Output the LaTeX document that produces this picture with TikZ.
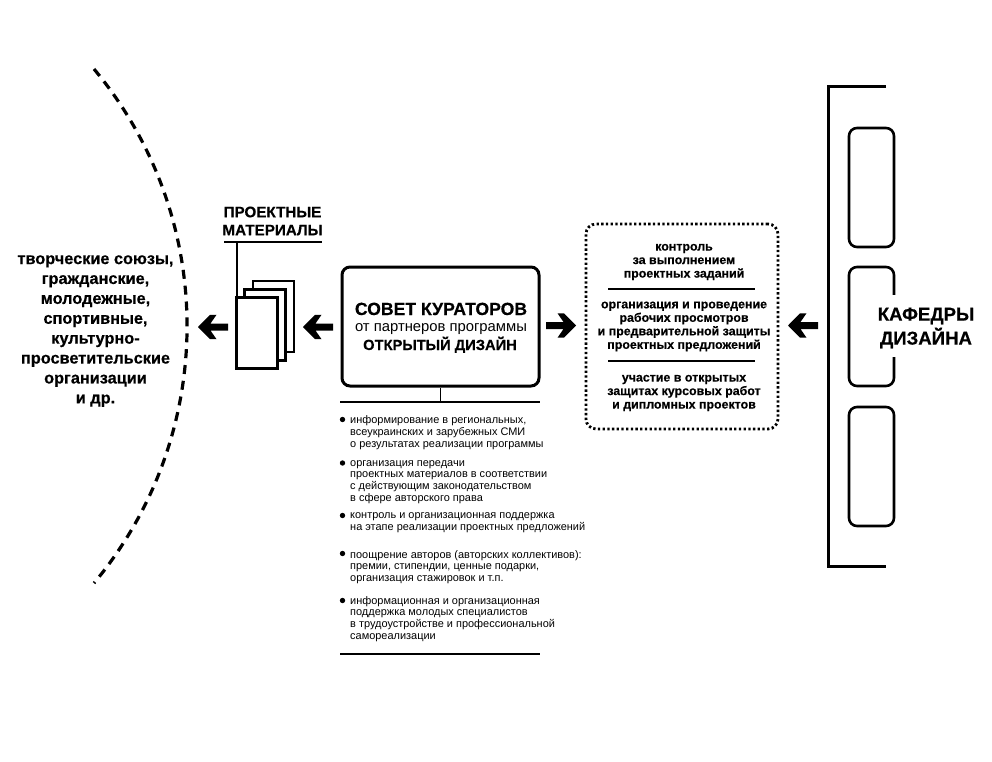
\documentclass[tikz,border=0pt]{standalone}
\usepackage{fontspec}
\setmainfont[BoldFeatures={FakeBold=0.5}]{Liberation Sans}
\tikzset{
  pics/blockarrow/.style={code={
    \fill (0,0) -- (12,-12.2) -- (18.5,-12.2) -- (12.5,-3.5) -- (30,-3.5) -- (30,3.5) -- (12.5,3.5) -- (18.5,12.2) -- (12,12.2) -- cycle;
  }},
  roundbox/.style={draw, line width=2.6pt, rounded corners=8pt, inner sep=0pt},
  sheet/.style={draw, fill=white, line width=2.2pt, inner sep=0pt, minimum width=41pt, minimum height=71pt},
  thinrule/.style={line width=1.3pt},
  listtext/.style={anchor=west, align=left, inner sep=0pt, font=\fontsize{10.95}{11.8}\selectfont},
  listdot/.style={circle, fill, inner sep=0pt, minimum size=5.4pt},
  dutytext/.style={align=center, inner sep=0pt, font=\bfseries\fontsize{12.4}{13.5}\selectfont},
  boxtext/.style={anchor=base, inner sep=0pt},
}
\begin{document}
\begin{tikzpicture}[x=1pt, y=-1pt]
    \useasboundingbox (0,0) rectangle (992,762);
    % Outer arc
    \coordinate (T) at (94,69);
    \draw[line width=3.2pt, dash pattern=on 9pt off 6.9pt] (T) arc[start angle=39.8, end angle=-39.8, radius=401.6pt];
    \node (O) at (95.5,331) [align=center, inner sep=0pt, font=\bfseries\fontsize{16.3}{19.9}\selectfont]
        {творческие союзы,\\гражданские,\\молодежные,\\спортивные,\\культурно-\\просветительские\\организации\\и др.};
    % Project materials
    \node (H) at (272.5,221) [align=center, inner sep=0pt, font=\bfseries\fontsize{15.2}{18}\selectfont] {ПРОЕКТНЫЕ\\МАТЕРИАЛЫ};
    \coordinate (HL) at (224,242);
    \coordinate (HR) at (322,242);
    \coordinate (HS) at (237,242);
    \draw[thinrule] (HL) -- (HR);
    \node[sheet] (M3) at (273.5,316.5) {};
    \node[sheet] (M2) at (265,325) {};
    \node[sheet] (M1) at (257,333) {};
    \draw[thinrule] (HS) -- (HS |- M1.north);
    % Curators
    \node[roundbox, line width=3pt, minimum width=197pt, minimum height=119pt] (S) at (440.5,326.5) {};
    \node[boxtext, font=\bfseries\fontsize{17.6}{18}\selectfont] (S1) at (441,315) {СОВЕТ КУРАТОРОВ};
    \node[boxtext, font=\fontsize{14.8}{18}\selectfont] (S2) at (441,331.5) {от партнеров программы};
    \node[boxtext, font=\bfseries\fontsize{14.7}{18}\selectfont] (S3) at (440,350) {ОТКРЫТЫЙ ДИЗАЙН};
    \coordinate (LA) at (340,402);
    \coordinate (LB) at (540,402);
    \coordinate (LC) at (340,654);
    \coordinate (LD) at (540,654);
    \draw[thinrule] (LA) -- (LB);
    \draw[thinrule] (S.south) -- (S.south |- LA);
    \draw[line width=1.8pt] (LC) -- (LD);
    % Tasks list
    \node[listtext] (P1) at (350,432.5) {информирование в региональных,\\всеукраинских и зарубежных СМИ\\о результатах реализации программы};
    \node[listtext] (P2) at (350,482) {организация передачи\\проектных материалов в соответствии\\с действующим законодательством\\в сфере авторского права};
    \node[listtext] (P3) at (350,523) {контроль и организационная поддержка\\на этапе реализации проектных предложений};
    \node[listtext] (P4) at (350,567) {поощрение авторов (авторских коллективов):\\премии, стипендии, ценные подарки,\\организация стажировок и т.п.};
    \node[listtext] (P5) at (350,619) {информационная и организационная\\поддержка молодых специалистов\\в трудоустройстве и профессиональной\\самореализации};
    \node[listdot] (D1) at (342.5,419.5) {};
    \node[listdot] (D2) at (342.5,463) {};
    \node[listdot] (D3) at (342.5,515.5) {};
    \node[listdot] (D4) at (342.5,553.5) {};
    \node[listdot] (D5) at (342.5,600.5) {};
    % Dotted box
    \node[draw, line width=2.8pt, dash pattern=on 2.3pt off 2.4pt, rounded corners=10pt, minimum width=192pt, minimum height=205pt] (K) at (682,326.5) {};
    \node[dutytext] (K1) at (684,262) {контроль\\за выполнением\\проектных заданий};
    \node[dutytext] (K2) at (684,326.5) {организация и проведение\\рабочих просмотров\\и предварительной защиты\\проектных предложений};
    \node[dutytext] (K3) at (684,393) {участие в открытых\\защитах курсовых работ\\и дипломных проектов};
    \coordinate (KA) at (608,289);
    \coordinate (KB) at (755,289);
    \coordinate (KC) at (608,361);
    \coordinate (KD) at (755,361);
    \draw[thinrule] (KA) -- (KB);
    \draw[thinrule] (KC) -- (KD);
    % Departments
    \coordinate (BA) at (886,87);
    \coordinate (BB) at (828,87);
    \coordinate (BC) at (828,566);
    \coordinate (BD) at (886,566);
    \draw[line width=3pt] (BA) -- (BB) -- (BC) -- (BD);
    \node[roundbox, minimum width=45pt, minimum height=119pt] (C1) at (871.5,187.5) {};
    \node[roundbox, minimum width=45pt, minimum height=119pt] (C2) at (871.5,326.5) {};
    \node[roundbox, minimum width=45pt, minimum height=119pt] (C3) at (871.5,466.5) {};
    \node (W) at (926,326) [fill=white, inner sep=0pt, minimum width=100pt, minimum height=62pt] {};
    \node (D) at (926,328) [align=center, inner sep=0pt, font=\bfseries\fontsize{18.6}{24}\selectfont] {КАФЕДРЫ\\ДИЗАЙНА};
    % Arrows
    \coordinate (A1) at (198,327);
    \coordinate (A2) at (303,327);
    \coordinate (A3) at (576,325.5);
    \coordinate (A4) at (788,325.5);
    \pic at (A1) {blockarrow};
    \pic at (A2) {blockarrow};
    \pic[xscale=-1] at (A3) {blockarrow};
    \pic at (A4) {blockarrow};
\end{tikzpicture}
\end{document}
